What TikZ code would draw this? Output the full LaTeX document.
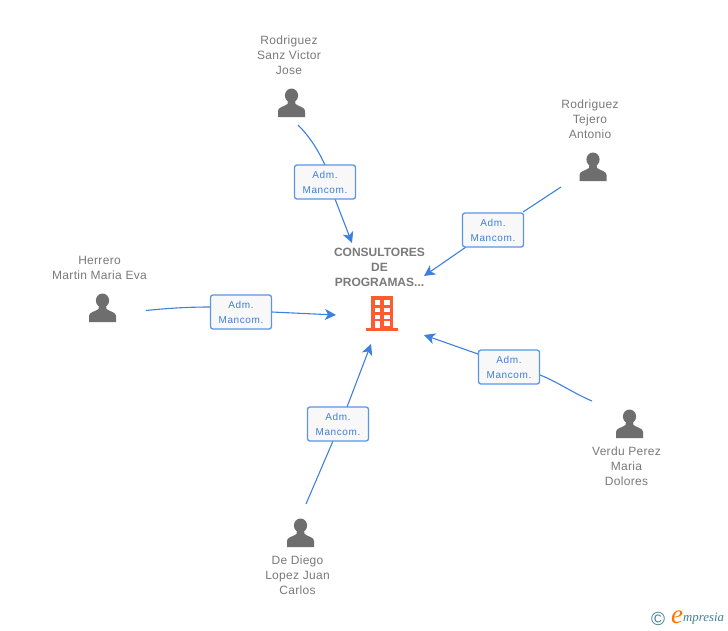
\documentclass[tikz,border=0pt]{standalone}
\usepackage{fontspec}
\setmainfont{Liberation Sans}
\newfontfamily\spaced[LetterSpace=6]{Liberation Sans}
\newfontfamily\tightspaced[LetterSpace=2.5]{Liberation Sans}
\newfontfamily\logofont{Liberation Serif}
\definecolor{conn}{HTML}{3D80E0}
\definecolor{boxline}{HTML}{5A96E6}
\definecolor{boxfill}{HTML}{F8F8F8}
\definecolor{labelblue}{HTML}{3D7FD9}
\definecolor{icongray}{HTML}{6E6E6E}
\definecolor{textgray}{HTML}{7A7A7A}
\definecolor{orangered}{HTML}{FF5A30}
\definecolor{teal}{HTML}{3F8196}
\usetikzlibrary{arrows.meta}
\tikzset{
  x=1pt,y=-1pt,
  person/.pic={
    \fill[icongray] (0,-7.5) ellipse (6.6 and 7);
    \fill[icongray] (-13.5,14) -- (-13.5,8) .. controls (-13.5,4) and (-8,4) .. (-4,1) -- (-3.5,-3)
      -- (3.5,-3) -- (4,1) .. controls (8,4) and (13.5,4) .. (13.5,8) -- (13.5,14) -- cycle;
  },
  personlabel/.style={align=center,font=\tightspaced\fontsize{12}{15}\selectfont,text=textgray,inner sep=0pt},
  rolebox/.style={draw=boxline,line width=1.3pt,fill=boxfill,rounded corners=2.5pt,minimum width=61pt,minimum height=34pt,
    inner sep=0pt,align=center,text=labelblue,font=\spaced\fontsize{10}{15}\selectfont},
  link/.style={conn,line width=1.1pt},
  linkend/.style={conn,line width=1.1pt,-{Stealth[length=11pt,width=11pt,inset=3pt]}},
  companylabel/.style={align=center,font=\bfseries\fontsize{12}{15}\selectfont,text=textgray,inner sep=0pt},
}
\begin{document}
\begin{tikzpicture}
\useasboundingbox (0,0) rectangle (728,630);
\fill[white] (0,0) rectangle (728,630);

% person anchors
\coordinate (pa) at (291.5,103);
\coordinate (pb) at (593,167);
\coordinate (pc) at (102.5,308);
\coordinate (pd) at (629.5,424);
\coordinate (pe) at (300.5,533);
\foreach \p in {pa,pb,pc,pd,pe} {\pic at (\p) {person};}

\node[personlabel] (la) at (289,55) {Rodriguez\\Sanz Victor\\Jose};
\node[personlabel] (lb) at (590,119) {Rodriguez\\Tejero\\Antonio};
\node[personlabel] (lc) at (99.5,267.5) {Herrero\\Martin Maria Eva};
\node[personlabel] (ld) at (626.5,466) {Verdu Perez\\Maria\\Dolores};
\node[personlabel] (le) at (297.5,575) {De Diego\\Lopez Juan\\Carlos};

% company
\node[companylabel] (co) at (379.5,267) {CONSULTORES\\DE\\PROGRAMAS...};
\fill[orangered] (371,296) rectangle (393,328);
\fill[orangered] (366,328) rectangle (398,330.5);
\foreach \y in {300,307.5,314.5} {
  \fill[white] (374.5,\y) rectangle (380,\y+4.5);
  \fill[white] (384,\y) rectangle (389.5,\y+4.5);
}
\fill[white] (375,321) rectangle (380,328);
\fill[white] (384,321) rectangle (389.5,325.5);

% connector free ends
\coordinate (sa) at (298,125);
\coordinate (ta) at (352,243);
\coordinate (sb) at (561,187);
\coordinate (tb) at (424,276);
\coordinate (sc) at (146,310.5);
\coordinate (tc) at (336,315);
\coordinate (sd) at (592,401);
\coordinate (td) at (424,335);
\coordinate (se) at (306,504);
\coordinate (te) at (371,344);

% connectors
\draw[link] (sa) .. controls (310,137) and (318,150) .. (325,165);
\draw[linkend] (335,199) -- (ta);
\draw[link] (sb) -- (523,212);
\draw[linkend] (466,247) -- (tb);
\draw[link] (sc) .. controls (170,308) and (190,307) .. (210,307);
\draw[linkend] (272,312) -- (tc);
\draw[link] (sd) .. controls (573,393) and (556,381) .. (540,375);
\draw[linkend] (478,354) -- (td);
\draw[link] (se) -- (333,441);
\draw[linkend] (347,407) -- (te);

% role boxes
\node[rolebox] (ra) at (325,182) {Adm.\\Mancom.};
\node[rolebox] (rb) at (493,230) {Adm.\\Mancom.};
\node[rolebox] (rc) at (241,312) {Adm.\\Mancom.};
\node[rolebox] (rd) at (509,367) {Adm.\\Mancom.};
\node[rolebox] (re) at (338,424) {Adm.\\Mancom.};

% logo
\node[inner sep=0pt,text=teal,font=\fontsize{19}{19}\selectfont] (cr) at (658,619) {©};
\node[inner sep=0pt,text=orange!90!red,font=\logofont\itshape\fontsize{27}{27}\selectfont] (lge) at (677,617) {e};
\node[inner sep=0pt,anchor=west,text=teal,font=\logofont\itshape\fontsize{12.8}{13}\selectfont] (lgm) at (683,619) {mpresia};
\end{tikzpicture}
\end{document}
